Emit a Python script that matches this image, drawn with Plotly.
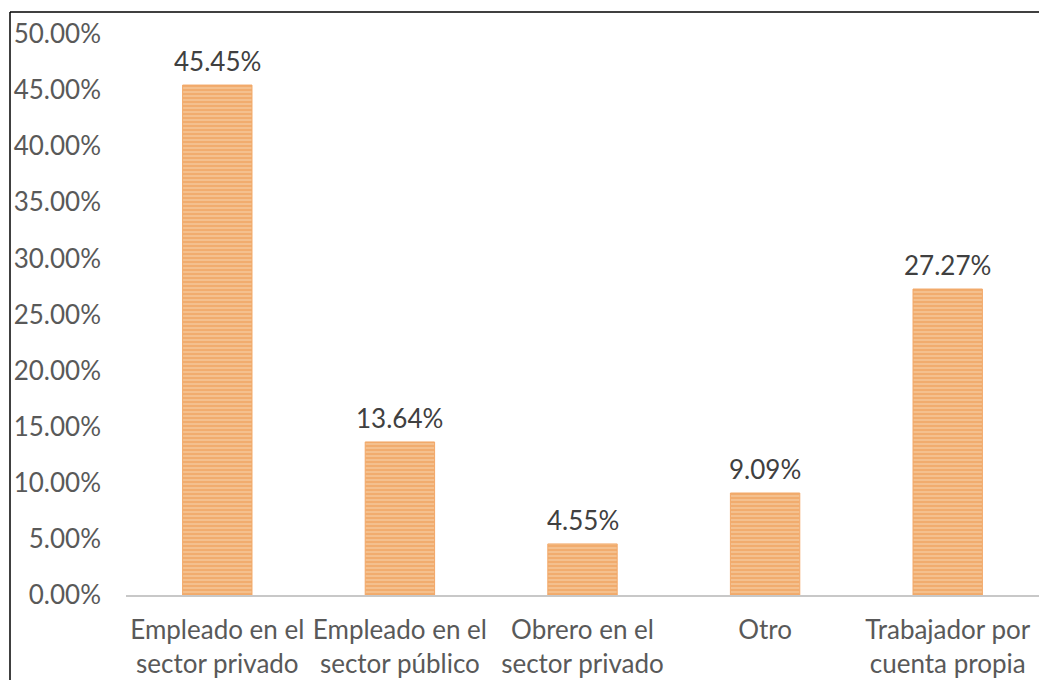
import plotly.graph_objects as go

categories = ["Empleado en el<br>sector privado", "Empleado en el<br>sector público",
              "Obrero en el<br>sector privado", "Otro", "Trabajador por<br>cuenta propia"]
values = [0.4545, 0.1364, 0.0455, 0.0909, 0.2727]
labels = ["45.45%", "13.64%", "4.55%", "9.09%", "27.27%"]
tick_vals = [0, 0.05, 0.10, 0.15, 0.20, 0.25, 0.30, 0.35, 0.40, 0.45, 0.50]
tick_text = ["0.00%", "5.00%", "10.00%", "15.00%", "20.00%", "25.00%", "30.00%",
             "35.00%", "40.00%", "45.00%", "50.00%"]

FONT = "Lato"
FS = 26

fig = go.Figure()
fig.add_trace(go.Bar(
    x=categories, y=values,
    marker=dict(
        color="#F3B07A",
        line=dict(color="#F2A868", width=1),
        pattern=dict(shape="-", fgcolor="#FAD9B6", bgcolor="#F1AC6E", size=4, solidity=0.45),
    ),
    hoverinfo="skip",
))

for c, v, t in zip(categories, values, labels):
    fig.add_annotation(x=c, y=v, text=t, showarrow=False, yanchor="bottom", yshift=6,
                       font=dict(family=FONT, size=FS, color="#404040"))

W, H = 1039, 680
L, R, T, B = 126, 0, 34, 85
pw = W - L - R
ph = H - T - B

# outer chart border (top & left visible)
bx0 = (10 - L) / pw
by1 = (H - B - 12) / ph
fig.add_shape(type="line", xref="paper", yref="paper", x0=bx0, x1=1.0, y0=by1, y1=by1,
              line=dict(color="black", width=1.5))
fig.add_shape(type="line", xref="paper", yref="paper", x0=bx0, x1=bx0, y0=-0.3, y1=by1,
              line=dict(color="black", width=1.5))

fig.update_layout(
    width=W, height=H,
    margin=dict(l=L, r=R, t=T, b=B, pad=0, autoexpand=False),
    paper_bgcolor="white", plot_bgcolor="white",
    bargap=0.62,
    showlegend=False,
    font=dict(family=FONT, size=FS, color="#595959"),
    xaxis=dict(showgrid=False, showline=True, linecolor="#C8C8C8", linewidth=1.5,
               ticks="", tickfont=dict(family=FONT, size=FS, color="#595959"), tickangle=0,
               ticklabelstandoff=11, automargin=False),
    yaxis=dict(range=[0, 0.5], tickvals=tick_vals, ticktext=tick_text, showgrid=False,
               zeroline=False, showline=False, ticks="", ticklabelstandoff=24,
               automargin=False,
               tickfont=dict(family=FONT, size=FS, color="#595959")),
)

fig.write_html(
    "out.html",
    config={"displayModeBar": False},
    post_script=("document.body.style.margin='0';"
                 "document.body.style.overflow='hidden';"
                 "document.documentElement.style.overflow='hidden';"),
)
